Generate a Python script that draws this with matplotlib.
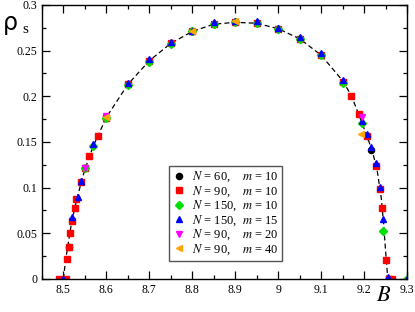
import matplotlib as mpl
mpl.use('agg')
import matplotlib.pyplot as plt
from matplotlib.ticker import MultipleLocator

plt.rcParams['font.family'] = ['Liberation Serif', 'DejaVu Serif']
plt.rcParams['mathtext.fontset'] = 'stix'

# fit curve (dashed)
fit_x = [8.500, 8.505, 8.510, 8.515, 8.520, 8.530, 8.540, 8.550, 8.570, 8.600,
         8.650, 8.700, 8.750, 8.800, 8.850, 8.900, 8.950, 9.000, 9.050, 9.100,
         9.150, 9.170, 9.190, 9.210, 9.220, 9.230, 9.240, 9.245, 9.250, 9.255]
fit_y = [0.000, 0.020, 0.035, 0.050, 0.064, 0.085, 0.103, 0.120, 0.146, 0.177,
         0.213, 0.239, 0.258, 0.271, 0.279, 0.281, 0.280, 0.274, 0.263, 0.245,
         0.217, 0.201, 0.177, 0.152, 0.138, 0.120, 0.088, 0.062, 0.030, 0.000]

# N=60, m=10
n60_x = [8.5, 8.512, 8.55, 8.6, 8.65, 8.7, 8.75, 8.8, 8.85, 8.9, 8.95, 9.0,
         9.05, 9.1, 9.15, 9.207, 9.217]
n60_y = [0.0, 0.035, 0.121, 0.176, 0.213, 0.239, 0.258, 0.271, 0.279, 0.281,
         0.280, 0.274, 0.263, 0.245, 0.216, 0.157, 0.141]

# N=90, m=10
n90_x = [8.49, 8.505, 8.509, 8.512, 8.515, 8.519, 8.526, 8.53, 8.542, 8.551,
         8.56, 8.581, 8.6, 8.65, 8.7, 8.75, 8.8, 8.85, 8.9, 8.95, 9.0, 9.05,
         9.1, 9.15, 9.17, 9.187, 9.207, 9.228, 9.237, 9.241, 9.25, 9.258, 9.265]
n90_y = [0.0, 0.0, 0.022, 0.035, 0.05, 0.063, 0.078, 0.087, 0.106, 0.121,
         0.135, 0.157, 0.176, 0.213, 0.239, 0.258, 0.271, 0.279, 0.281, 0.280,
         0.274, 0.263, 0.245, 0.216, 0.2, 0.181, 0.157, 0.124, 0.098, 0.078,
         0.021, 0.0, 0.0]

# N=150, m=10
n150a_x = [8.55, 8.57, 8.6, 8.65, 8.7, 8.75, 8.8, 8.85, 8.9, 8.95, 9.0, 9.05,
           9.1, 9.15, 9.195, 9.245, 9.3]
n150a_y = [0.121, 0.146, 0.176, 0.212, 0.238, 0.257, 0.271, 0.279, 0.281,
           0.280, 0.274, 0.263, 0.245, 0.215, 0.171, 0.052, 0.0]

# N=150, m=15
n150b_x = [8.5, 8.521, 8.533, 8.542, 8.57, 8.65, 8.7, 8.75, 8.8, 8.85, 8.9,
           8.95, 9.0, 9.05, 9.1, 9.15, 9.195, 9.207, 9.217, 9.228, 9.237,
           9.245, 9.255, 9.3]
n150b_y = [0.0, 0.068, 0.090, 0.107, 0.148, 0.215, 0.241, 0.260, 0.272, 0.281,
           0.282, 0.282, 0.275, 0.265, 0.247, 0.218, 0.173, 0.159, 0.145,
           0.127, 0.101, 0.066, 0.002, 0.0]

# N=90, m=20
m20_x = [8.55, 8.6, 9.195]
m20_y = [0.122, 0.178, 0.177]

# N=90, m=40
m40_x = [8.6, 8.8, 8.9, 9.193]
m40_y = [0.177, 0.271, 0.283, 0.159]

fig = plt.figure(figsize=(4.15, 3.12), dpi=100)
ax = fig.add_axes([0.101, 0.106, 0.880, 0.878])

ax.plot(fit_x, fit_y, 'k--', lw=0.9, dashes=(4, 2.5), zorder=1)
ax.plot(n60_x, n60_y, 'o', color='black', ms=4.4, ls='none', label=r'$N$ = 60,    $m$ = 10')
ax.plot(n90_x, n90_y, 's', color='#ff0000', ms=4.4, ls='none', label=r'$N$ = 90,    $m$ = 10')
ax.plot(n150a_x, n150a_y, 'D', color='#00e000', ms=3.6, ls='none', label=r'$N$ = 150,  $m$ = 10')
ax.plot(n150b_x, n150b_y, '^', color='#0000ff', ms=4.8, ls='none', label=r'$N$ = 150,  $m$ = 15')
ax.plot(m20_x, m20_y, 'v', color='#ff00ff', ms=4.8, ls='none', label=r'$N$ = 90,    $m$ = 20')
ax.plot(m40_x, m40_y, '<', color='#ffa500', ms=4.8, ls='none', label=r'$N$ = 90,    $m$ = 40')

ax.set_xlim(8.45, 9.3)
ax.set_ylim(0, 0.3)
ax.xaxis.set_minor_locator(MultipleLocator(0.05))
ax.yaxis.set_minor_locator(MultipleLocator(0.025))
ax.set_xticks([8.5, 8.6, 8.7, 8.8, 8.9, 9.0, 9.1, 9.2, 9.3])
ax.set_xticklabels(['8.5', '8.6', '8.7', '8.8', '8.9', '9', '9.1', '9.2', '9.3'])
ax.set_yticks([0, 0.05, 0.1, 0.15, 0.2, 0.25, 0.3])
ax.set_yticklabels(['0', '0.05', '0.1', '0.15', '0.2', '0.25', '0.3'])
ax.tick_params(which='both', direction='in', top=True, right=True, labelsize=8.5, width=0.9)
ax.tick_params(which='major', length=6)
ax.tick_params(which='minor', length=3)
for s in ax.spines.values():
    s.set_linewidth(1.0)

ax.legend(loc='upper left', bbox_to_anchor=(0.348, 0.412), fontsize=9, frameon=True,
          fancybox=False, edgecolor='#555555', framealpha=1, handlelength=1.0,
          handletextpad=0.5, labelspacing=0.0, borderpad=0.3, borderaxespad=0)

fig.text(0.008, 0.905, 'ρ', fontsize=17, family='DejaVu Sans')
fig.text(0.055, 0.893, 's', fontsize=11)
fig.text(0.905, 0.035, r'$B$', fontsize=16)

fig.savefig('out.png', dpi=100)
